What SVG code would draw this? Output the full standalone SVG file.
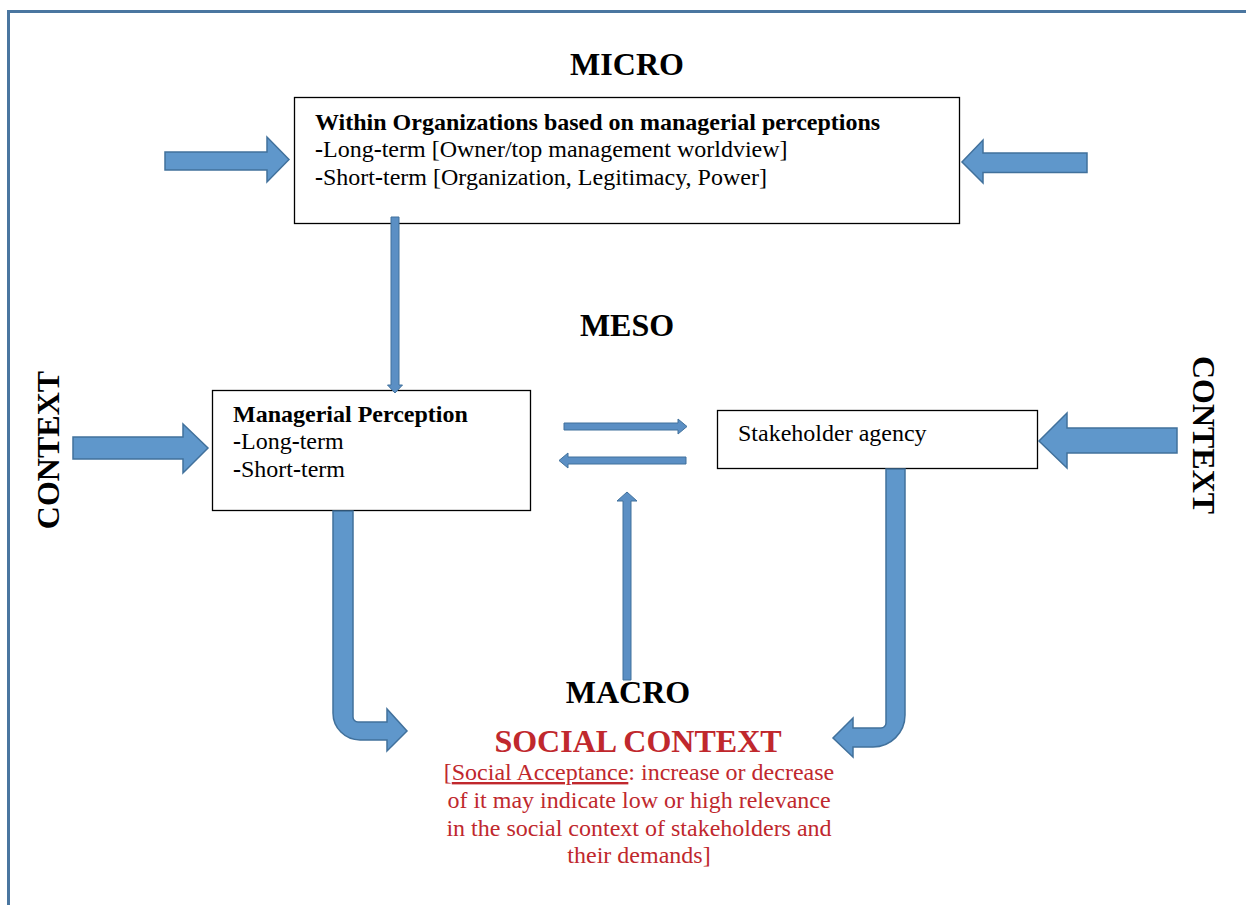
<svg xmlns="http://www.w3.org/2000/svg" width="1246" height="905" viewBox="0 0 1246 905">
<style>
.frame{fill:none;stroke:#4a76a0;stroke-width:3}
.box{fill:#fff;stroke:#000;stroke-width:1.3}
.arr{fill:#5f97cb;stroke:#41719c;stroke-width:1.5;stroke-linejoin:miter}
.thin{fill:#5b8fc4;stroke:#41719c;stroke-width:1}
.t{font-family:"Liberation Serif","Times New Roman",serif;font-size:24px;fill:#000}
.b{font-weight:bold}
.title{font-family:"Liberation Serif","Times New Roman",serif;font-size:32px;font-weight:bold;fill:#000;text-anchor:middle}
.red{fill:#c0282d}
.p{font-family:"Liberation Serif","Times New Roman",serif;font-size:24px;fill:#c0282d;text-anchor:middle}
</style>
<rect width="1246" height="905" fill="#fff"/>
<path class="frame" d="M8.5,905 L8.5,11.5 L1250,11.5"/>

<text class="title" x="627" y="75">MICRO</text>
<text class="title" x="627" y="336">MESO</text>
<text class="title" x="628" y="703">MACRO</text>
<text class="title" transform="translate(59,450) rotate(-90)" x="0" y="0">CONTEXT</text>
<text class="title" transform="translate(1193,435) rotate(90)" x="0" y="0">CONTEXT</text>

<g id="micro-box">
<rect class="box" x="294.5" y="97.5" width="665" height="126"/>
<text class="t b" x="315" y="130">Within Organizations based on managerial perceptions</text>
<text class="t" x="315" y="157"><tspan class="b">-</tspan>Long<tspan class="b">-</tspan>term [Owner/top management worldview]</text>
<text class="t" x="315" y="185"><tspan class="b">-</tspan>Short<tspan class="b">-</tspan>term [Organization, Legitimacy, Power]</text>
</g>

<g id="managerial-perception">
<rect class="box" x="212.5" y="390.5" width="318" height="120"/>
<text class="t b" x="233" y="422">Managerial Perception</text>
<text class="t" x="233" y="449"><tspan class="b">-</tspan>Long<tspan class="b">-</tspan>term</text>
<text class="t" x="233" y="477"><tspan class="b">-</tspan>Short<tspan class="b">-</tspan>term</text>
</g>

<g id="stakeholder-agency">
<rect class="box" x="717.5" y="410.5" width="320" height="58"/>
<text class="t" x="738" y="441">Stakeholder agency</text>
</g>

<g id="social-context">
<text class="title red" x="638" y="752">SOCIAL CONTEXT</text>
<text class="p" x="639" y="780">[<tspan text-decoration="underline">Social Acceptance</tspan>: increase or decrease</text>
<text class="p" x="639" y="808">of it may indicate low or high relevance</text>
<text class="p" x="639" y="836">in the social context of stakeholders and</text>
<text class="p" x="639" y="863">their demands]</text>
</g>

<g id="connectors">
<path class="arr" d="M165,152 L267,152 L267,137 L289,159.5 L267,182 L267,170 L165,170 Z"/>
<path class="arr" d="M1087,153 L983,153 L983,140 L962,162 L983,183 L983,172.5 L1087,172.5 Z"/>
<path class="arr" d="M73,437 L183,437 L183,424 L208,448 L183,473 L183,459 L73,459 Z"/>
<path class="arr" d="M1177,428 L1067,428 L1067,413 L1039,441 L1067,468 L1067,453 L1177,453 Z"/>
<path class="arr" d="M333,511 L353,511 L353,717 A5,5 0 0 0 358,722 L387,722 L387,709 L407,731 L387,751 L387,740 L360,740 A27,27 0 0 1 333,713 Z"/>
<path class="arr" d="M886,469 L905,469 L905,715 A32,32 0 0 1 873,747 L853,747 L853,757 L833,738 L853,718 L853,728 L881,728 A5,5 0 0 0 886,723 Z"/>
<path class="thin" d="M391,217 L399,217 L399,385 L402.5,385 L395,393 L387.5,385 L391,385 Z"/>
<path class="thin" d="M623,680 L631,680 L631,501 L637,501 L627,492 L617,501 L623,501 Z"/>
<path class="thin" d="M564,423 L678,423 L678,419 L687,426.5 L678,434 L678,430 L564,430 Z"/>
<path class="thin" d="M686,457 L568,457 L568,453 L559,460.5 L568,468 L568,464 L686,464 Z"/>
</g>
</svg>
